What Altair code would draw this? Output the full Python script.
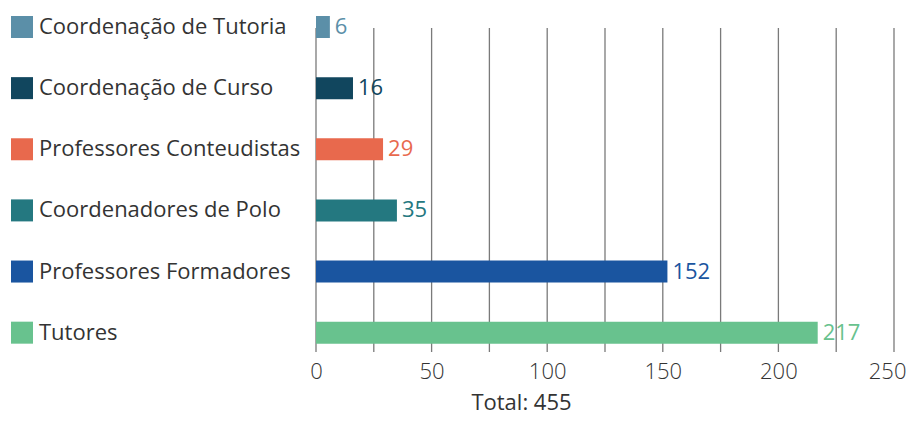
import altair as alt
import pandas as pd

categories = ["Coordenação de Tutoria", "Coordenação de Curso", "Professores Conteudistas",
              "Coordenadores de Polo", "Professores Formadores", "Tutores"]
labels = ["Coordenação de Tutoria", "Coordenação de Curso", "Professores Conteudistas",
          "\u00a0Coordenadores de Polo", "Professores Formadores", "Tutores"]
values = [6, 16, 29, 35, 152, 217]
colors = ["#5b8fa8", "#11465e", "#e8694d", "#247880", "#1a55a0", "#68c28e"]
grid_values = [0, 25, 50, 75, 100, 125, 150, 175, 200, 225, 250]
tick_values = [0, 50, 100, 150, 200, 250]
total_text = "Total: 455"

df = pd.DataFrame({"cat": categories, "label": labels, "value": values})
gdf = pd.DataFrame({"g": grid_values})

FONT = "Open Sans"
W, H = 578, 344

yenc = alt.Y("cat:N", sort=categories, axis=None,
             scale=alt.Scale(paddingInner=0.64, paddingOuter=0.1335, align=0.49))
cenc = alt.Color("cat:N", scale=alt.Scale(domain=categories, range=colors), legend=None)
xscale = alt.Scale(domain=[0, 250], nice=False)

grid = alt.Chart(gdf).mark_rule(color="#7a7a7a", strokeWidth=1.3).encode(
    x=alt.X("g:Q", scale=xscale,
            axis=alt.Axis(values=tick_values, domain=False, ticks=False, grid=False,
                          labelFont=FONT, labelFontSize=22, labelColor="#333333",
                          labelPadding=9, labelFontWeight=300, labelFlush=False,
                          labelAlign={"condition": {"test": "datum.value == 250", "value": "right"},
                                      "value": "center"},
                          labelOffset={"condition": {"test": "datum.value == 250", "value": 12},
                                       "value": 0},
                          title=None)),
    y=alt.value(20), y2=alt.value(H))

bars = alt.Chart(df).mark_bar().encode(
    x=alt.X("value:Q", scale=xscale), y=yenc, color=cenc)

vals = alt.Chart(df).mark_text(align="left", baseline="middle", dx=5, font=FONT, fontSize=22).encode(
    x=alt.X("value:Q", scale=xscale), y=yenc, color=cenc, text="value:Q")

squares = alt.Chart(df).mark_bar().encode(
    x=alt.value(-305), x2=alt.value(-283), y=yenc, color=cenc)

names = alt.Chart(df).mark_text(align="left", baseline="middle", font=FONT, fontSize=22,
                                color="#333333").encode(
    x=alt.value(-277), y=yenc, text="label:N")

total = alt.Chart(pd.DataFrame({"t": [total_text]})).mark_text(
    align="center", baseline="alphabetic", font=FONT, fontSize=22, color="#333333").encode(
    x=alt.value(205.5), y=alt.value(402), text="t:N")

chart = alt.layer(grid, bars, vals, squares, names, total).properties(
    width=W, height=H,
    autosize=alt.AutoSizeParams(type="none"),
    padding={"left": 308, "top": 0, "right": 12, "bottom": 63},
).configure_view(stroke=None)

chart.save("out.html", embed_options={"renderer": "svg", "actions": False})
